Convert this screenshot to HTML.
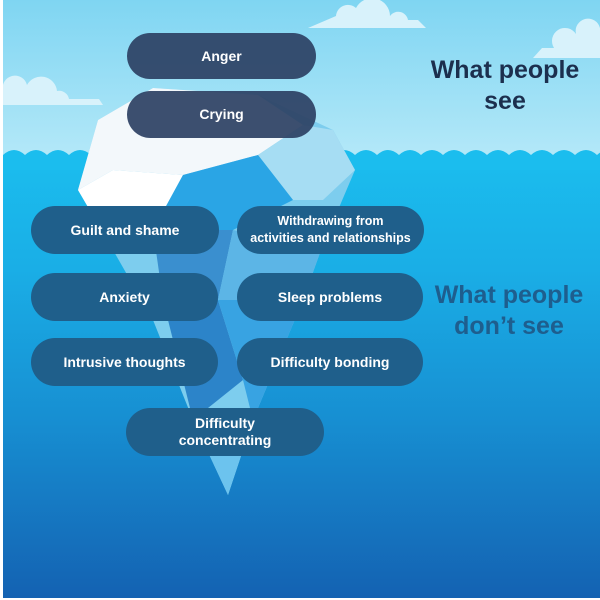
<!DOCTYPE html>
<html><head><style>
body{margin:0;width:600px;height:600px;background:#fff;overflow:hidden;font-family:"Liberation Sans",sans-serif}
#c{position:absolute;left:3px;top:0;width:597px;height:598px;overflow:hidden;background:linear-gradient(#7fd5f2 0%,#b3e8f8 26%,#1bbdee 26%,#1aaee6 45%,#178fd2 70%,#1462b2 100%)}
.p{position:absolute;border-radius:24px;color:#fff;font-weight:bold;font-size:14px;display:flex;align-items:center;justify-content:center;text-align:center;line-height:17px}
.t{background:rgba(45,66,100,0.93)}
.b{background:#1f5f8b}
.h{position:absolute;font-weight:bold;font-size:25px;text-align:center;line-height:31px}
</style></head><body>
<div id="c">
<svg width="597" height="598" style="position:absolute;left:0;top:0">
<g fill="#d8f2fb">
<path d="M305 28 h118 l-8 -8 h-10 a10 10 0 0 0 -18 -4 a18 18 0 0 0 -34 -8 a12 12 0 0 0 -20 8 z"/>
<path d="M0 105 h100 l-4 -6 h-30 a10 10 0 0 0 -12 -8 a16 16 0 0 0 -30 -6 a10 10 0 0 0 -24 6 z"/>
<path d="M530 58 h67 v-30 a12 12 0 0 0 -24 6 a12 12 0 0 0 -22 14 h-12 z"/>
</g>
<path d="M0 155 q11 -10 22 0 q11 -10 22 0 q11 -10 22 0 q11 -10 22 0 q11 -10 22 0 q11 -10 22 0 q11 -10 22 0 q11 -10 22 0 q11 -10 22 0 q11 -10 22 0 q11 -10 22 0 q11 -10 22 0 q11 -10 22 0 q11 -10 22 0 q11 -10 22 0 q11 -10 22 0 q11 -10 22 0 q11 -10 22 0 q11 -10 22 0 q11 -10 22 0 q11 -10 22 0 q11 -10 22 0 q11 -10 22 0 q11 -10 22 0 q11 -10 22 0 q11 -10 22 0 q11 -10 22 0 q11 -10 22 0 V170 H0z" fill="#1bbdee"/>
<polygon points="95,120 150,88 255,95 330,130 352,170 318,250 300,300 250,420 225,495 190,420 150,320 110,250 75,190" fill="#7dcdee"/>
<polygon points="95,120 150,88 255,95 300,125 255,155 180,175 110,170 75,190" fill="#f3f8fb"/>
<polygon points="255,155 300,125 330,130 352,170 320,200 290,200" fill="#a6ddf3"/>
<polygon points="75,190 110,170 180,175 150,230 110,250" fill="#ffffff"/>
<polygon points="180,175 255,155 290,200 230,230 150,230" fill="#2aa5e5"/>
<polygon points="150,230 230,230 215,300 160,300" fill="#3a8fcf"/>
<polygon points="230,230 318,250 300,300 215,300" fill="#5cb5e6"/>
<polygon points="160,300 215,300 240,380 190,420" fill="#2c84c9"/>
<polygon points="215,300 300,300 250,420 240,380" fill="#38a3e2"/>
<polygon points="190,420 250,420 225,495" fill="#6cc3ee"/>
</svg>
<div class="p t" style="left:124px;top:33px;width:189px;height:46px">Anger</div>
<div class="p t" style="left:124px;top:91px;width:189px;height:47px">Crying</div>
<div class="p b" style="left:28px;top:206px;width:188px;height:48px">Guilt and shame</div>
<div class="p b" style="left:234px;top:206px;width:187px;height:48px;font-size:12.5px;line-height:17px">Withdrawing from<br>activities and relationships</div>
<div class="p b" style="left:28px;top:273px;width:187px;height:48px">Anxiety</div>
<div class="p b" style="left:234px;top:273px;width:186px;height:48px">Sleep problems</div>
<div class="p b" style="left:28px;top:338px;width:187px;height:48px">Intrusive thoughts</div>
<div class="p b" style="left:234px;top:338px;width:186px;height:48px">Difficulty bonding</div>
<div class="p b" style="left:123px;top:408px;width:198px;height:48px">Difficulty<br>concentrating</div>
<div class="h" style="left:412px;top:55px;width:180px;color:#1c2f4e">What people<br>see</div>
<div class="h" style="left:416px;top:280px;width:180px;color:#1e5e8e">What people<br>don’t see</div>
</div>
</body></html>
